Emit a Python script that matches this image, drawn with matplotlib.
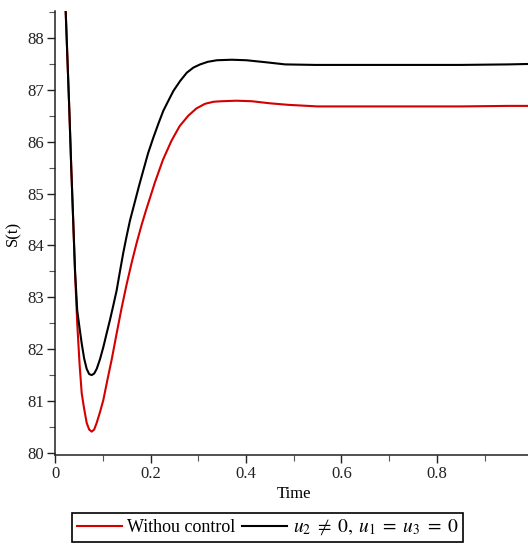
import matplotlib
matplotlib.use("Agg")
import matplotlib.pyplot as plt
from matplotlib.ticker import MultipleLocator, FixedLocator, FixedFormatter

plt.rcParams['font.family'] = ['Liberation Serif', 'DejaVu Serif']
plt.rcParams['mathtext.fontset'] = 'stix'

# Data
t_black = [0.022, 0.026, 0.030, 0.034, 0.038, 0.042, 0.0465, 0.0515, 0.0559, 0.061, 0.0663,
           0.0715, 0.0768, 0.082, 0.0873, 0.094, 0.1012, 0.108, 0.115, 0.122, 0.129, 0.136,
           0.143, 0.150, 0.157, 0.1675, 0.176, 0.185, 0.195, 0.206, 0.217, 0.227, 0.238,
           0.248, 0.262, 0.276, 0.290, 0.304, 0.320, 0.339, 0.370, 0.401, 0.443, 0.482,
           0.545, 0.65, 0.75, 0.85, 0.95, 1.0]
s_black = [88.6, 87.6, 86.6, 85.5, 84.5, 83.5, 82.75, 82.4, 82.11, 81.82, 81.62,
           81.52, 81.5, 81.53, 81.62, 81.8, 82.04, 82.3, 82.56, 82.84, 83.13, 83.5,
           83.86, 84.18, 84.48, 84.85, 85.15, 85.45, 85.78, 86.08, 86.36, 86.6, 86.8,
           86.98, 87.17, 87.33, 87.43, 87.49, 87.54, 87.57, 87.58, 87.57, 87.53, 87.49,
           87.48, 87.48, 87.48, 87.48, 87.49, 87.5]

t_red = [0.022, 0.026, 0.030, 0.034, 0.038, 0.042, 0.0465, 0.0515, 0.0559, 0.061, 0.0663,
         0.0715, 0.0768, 0.082, 0.0873, 0.094, 0.1012, 0.110, 0.1187, 0.129, 0.1396,
         0.150, 0.1606, 0.171, 0.1815, 0.190, 0.199, 0.2094, 0.226, 0.244, 0.261, 0.279,
         0.296, 0.314, 0.332, 0.349, 0.380, 0.412, 0.450, 0.489, 0.55, 0.65, 0.75, 0.85,
         0.95, 1.0]
s_red = [88.6, 87.6, 86.6, 85.5, 84.5, 83.45, 82.5, 81.7, 81.15, 80.85, 80.58,
         80.45, 80.41, 80.45, 80.58, 80.78, 81.02, 81.42, 81.8, 82.3, 82.8,
         83.25, 83.67, 84.05, 84.4, 84.66, 84.92, 85.22, 85.65, 86.02, 86.3, 86.5,
         86.64, 86.73, 86.77, 86.78, 86.79, 86.78, 86.74, 86.71, 86.68, 86.68, 86.68, 86.68,
         86.69, 86.69]

x_ticks = [0, 0.2, 0.4, 0.6, 0.8, 1.0]
x_tick_labels = ["0", "0.2", "0.4", "0.6", "0.8", "1"]
y_ticks = [80, 81, 82, 83, 84, 85, 86, 87, 88]
y_tick_labels = ["80", "81", "82", "83", "84", "85", "86", "87", "88"]

label_red = "Withou control"
label_black = r"$u_2\;\neq\;0,\; u_1\;=\;u_3\;=\;0$"

fig = plt.figure(figsize=(5.28, 5.46), dpi=100)
ax = fig.add_axes([0.1042, 0.1667, 0.9043, 0.8132])

l1, = ax.plot(t_red, s_red, color='#d40000', lw=1.5, label=label_red)
l2, = ax.plot(t_black, s_black, color='black', lw=1.5, label=label_black)

ax.set_xlim(0, 1.0)
ax.set_ylim(79.96, 88.52)

ax.xaxis.set_major_locator(FixedLocator(x_ticks))
ax.xaxis.set_major_formatter(FixedFormatter(x_tick_labels))
ax.xaxis.set_minor_locator(MultipleLocator(0.1))
ax.yaxis.set_major_locator(FixedLocator(y_ticks))
ax.yaxis.set_major_formatter(FixedFormatter(y_tick_labels))
ax.yaxis.set_minor_locator(MultipleLocator(0.5))

for side in ['top', 'right']:
    ax.spines[side].set_visible(False)
for side in ['left', 'bottom']:
    ax.spines[side].set_linewidth(1.1)
    ax.spines[side].set_color('#222222')

ax.tick_params(which='major', direction='out', length=6, width=1, labelsize=12, colors='#222222', pad=2)
ax.tick_params(which='minor', direction='out', length=4, width=0.8, colors='#555555')

ax.set_xlabel("Time", fontsize=12, labelpad=3)
ax.set_ylabel("S(t)", fontsize=12, labelpad=4)

leg = fig.legend(handles=[l1, l2], loc='center', bbox_to_anchor=(0.5066, 0.034),
                 ncol=2, frameon=True, fancybox=False, edgecolor='black', framealpha=1,
                 fontsize=13, handlelength=2.5, handletextpad=0.3, columnspacing=0.35,
                 borderpad=0.25, borderaxespad=0)
leg.get_frame().set_linewidth(1.2)
leg.get_texts()[1].set_fontsize(14)

fig.savefig("out.png", dpi=100)
